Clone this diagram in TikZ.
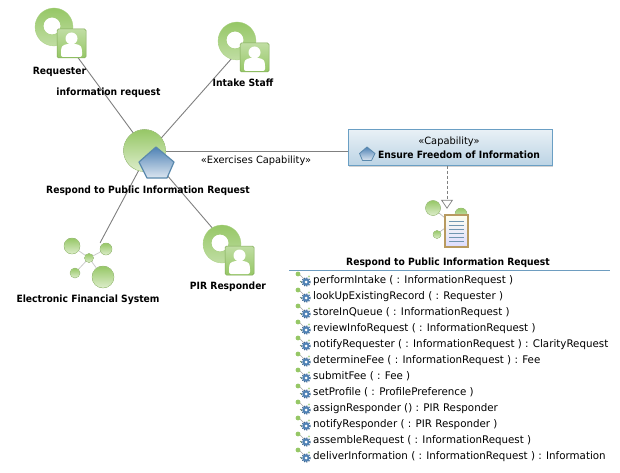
\documentclass[tikz,border=0pt]{standalone}
\usepackage{fontspec}
\setmainfont{DejaVu Sans}[FakeStretch=0.92]
\newfontfamily\methodfont{DejaVu Sans}[FakeStretch=0.98]
\newfontfamily\stereofont{DejaVu Sans}[FakeStretch=0.985]
\usetikzlibrary{arrows.meta,shapes.geometric,shadows}
\definecolor{ringdark}{HTML}{96C766}
\definecolor{ringlight}{HTML}{DDEDCB}
\definecolor{linegray}{HTML}{808080}
\definecolor{penta}{HTML}{4F82B5}
\definecolor{pentaedge}{HTML}{5A89AD}
\definecolor{capedge}{HTML}{6A9FC4}
\definecolor{rulecol}{HTML}{6E9DC0}
\definecolor{doctan}{HTML}{B89A60}
\tikzset{
  lbl/.style={inner sep=0pt,font=\fontsize{10}{12}\selectfont\bfseries,text=black},
  reg/.style={inner sep=0pt,font=\fontsize{10}{12}\stereofont,text=black},
  method/.style={inner sep=0pt,font=\fontsize{10.5}{12}\methodfont,text=black,anchor=west},
  conn/.style={draw=linegray,line width=0.9pt},
  anchorpt/.style={inner sep=0pt,minimum size=0pt},
  ball/.style={top color=ringdark,bottom color=ringlight,draw=ringdark!80!white,line width=0.4pt},
  pics/actor/.style={code={
    \shade[top color=ringdark,bottom color=ringdark!60!white,even odd rule,draw=ringdark!80!white,line width=0.3pt]
      (0,0) circle[radius=19] (-2,-1) circle[radius=8.5];
    \fill[white] (-2,-1) circle[radius=8.3];
    \shade[top color=ringdark!60!white,bottom color=ringdark,draw=ringdark!85!black,line width=0.5pt,rounded corners=1.5pt]
      (3,2) rectangle (32,31);
    \fill[white] (17.5,11.5) circle[radius=6];
    \fill[white,rounded corners=2pt] (7,30) -- (7,23) .. controls (8,18) and (12,17) .. (17.5,17) .. controls (23,17) and (27,18) .. (28,23) -- (28,30) -- cycle;
  }},
  pics/methodicon/.style={code={
    \draw[linegray!70!white,line width=0.7pt] (-4,-5) -- (1,0);
    \fill[ringdark] (-5,-5) circle[radius=2.4];
    \draw[ringdark!70!black,line width=0.6pt] (-3,2) -- (-1,4);
    \draw[penta!80!black,line width=1.3pt,dash pattern=on 1.2pt off 1.2pt] (3,3) circle[radius=4.1];
    \fill[penta] (3,3) circle[radius=3.6];
    \fill[white] (3,3) circle[radius=1.5];
    \fill[ringdark!70!white] (6,-2.5) circle[radius=1.2];
  }}
}
\begin{document}
\begin{tikzpicture}[x=1pt,y=-1pt]
\useasboundingbox (0,0) rectangle (620,473);
\fill[white] (0,0) rectangle (620,473);
% connector anchors
\node[anchorpt] (hub) at (148,153) {};
\node[anchorpt] (requester) at (68,44) {};
\node[anchorpt] (intake) at (240,49) {};
\node[anchorpt] (efs) at (100,243) {};
\node[anchorpt] (pir) at (226,244) {};
\node[anchorpt] (exstart) at (150,151) {};
\node[anchorpt] (classicon) at (447,209) {};
% capability
\node[anchor=north west,minimum width=204pt,minimum height=36pt,inner sep=0pt,draw=capedge,line width=0.7pt,
  top color=white!85!capedge,bottom color=capedge!45!white,drop shadow={shadow xshift=1pt,shadow yshift=-1.5pt,opacity=.35}] (cap) at (348,129) {};
% connectors
\draw[conn] (requester) -- (hub);
\draw[conn] (intake) -- (hub);
\draw[conn] (efs) -- (hub);
\draw[conn] (pir) -- (hub);
\draw[conn] (exstart) -- (cap.west |- exstart);
\draw[draw=linegray,line width=0.7pt,dashed,dash pattern=on 3pt off 2pt,-{Triangle[open,length=9pt,width=12pt]}] (cap.south -| classicon) -- (classicon);
% actors
\pic at (54,27) {actor};
\pic at (237,41) {actor};
\pic at (222,244) {actor};
% hub
\fill[ball] (144.5,150.5) circle[radius=21];
\shade[top color=penta,bottom color=white!80!penta,draw=pentaedge,line width=1.2pt,line join=round]
  (156,147) -- (174,162) -- (167,178) -- (147,178) -- (139,162) -- cycle;
% EFS
\draw[linegray!40!white,line width=0.8pt] (72,246) -- (89,258) -- (106,249) (75,273) -- (89,258) -- (103,277);
\fill[ball] (72,246) circle[radius=8];
\fill[ball] (106,249) circle[radius=6];
\fill[ball] (89,258) circle[radius=4.5];
\fill[ball] (75,273) circle[radius=5];
\fill[ball] (103,277) circle[radius=11];
% class icon
\draw[linegray!60!white,line width=0.6pt] (433,208) -- (445,218) (437,234) -- (445,228);
\fill[ball] (433,208) circle[radius=7.5];
\fill[ball] (461,214) circle[radius=6];
\fill[ball] (437,234.5) circle[radius=4];
\shade[draw=doctan,line width=1.1pt,top color=yellow!6!white,bottom color=blue!14!white] (445,215) rectangle (468,247);
\foreach \ly in {221,225,229,233,237,241}{\draw[capedge!70!linegray,line width=0.7pt] (449,\ly) -- (464,\ly);}
% capability content
\shade[top color=penta,bottom color=white!80!penta,draw=pentaedge,line width=0.8pt,line join=round]
  (367,147) -- (375,153.5) -- (371.5,160.5) -- (362.5,160.5) -- (359.5,153.5) -- cycle;
\node[reg] (capst) at (449,141.5) {«Capability»};
\node[lbl] (capname) at (459,154.5) {Ensure Freedom of Information};
% labels
\node[lbl] (l1) at (59.5,71.5) {Requester};
\node[lbl] (l2) at (108.5,92.5) {information request};
\node[lbl] (l3) at (243,83) {Intake Staff};
\node[reg] (l4) at (256,161) {«Exercises Capability»};
\node[lbl] (l5) at (148,191) {Respond to Public Information Request};
\node[lbl] (l6) at (88,300) {Electronic Financial System};
\node[lbl] (l7) at (228,287) {PIR Responder};
\node[lbl] (l8) at (448,263) {Respond to Public Information Request};
\draw[rulecol,line width=0.8pt] (289,270.5) -- (610,270.5);
% methods
\foreach \my/\mt in {
 280.5/{performIntake (  : InformationRequest )},
 296.5/{lookUpExistingRecord (  : Requester )},
 312.5/{storeInQueue (  : InformationRequest )},
 328.5/{reviewInfoRequest (  : InformationRequest )},
 344.5/{notifyRequester (  : InformationRequest ) : ClarityRequest},
 360.5/{determineFee (  : InformationRequest ) : Fee},
 376.5/{submitFee (  : Fee )},
 392.5/{setProfile (  : ProfilePreference )},
 408.5/{assignResponder () : PIR Responder},
 424.5/{notifyResponder (  : PIR Responder )},
 440.5/{assembleRequest (  : InformationRequest )},
 456.5/{deliverInformation (  : InformationRequest ) : Information}}{
  \pic at (303,\my-1.5) {methodicon};
  \node[method] at (313,\my) {\mt};
}
\end{tikzpicture}
\end{document}
